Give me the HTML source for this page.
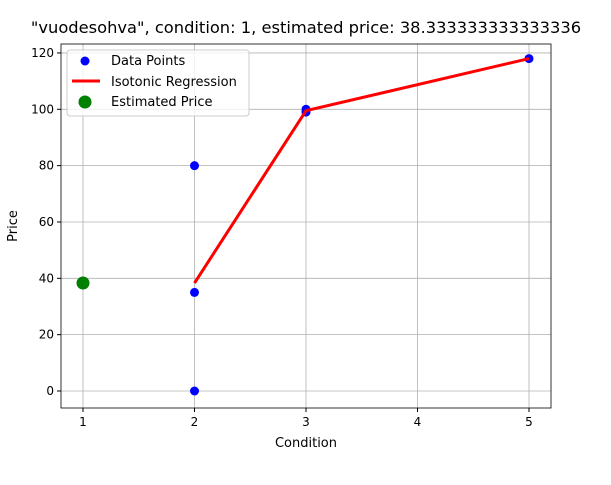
<!DOCTYPE html>
<html><head><meta charset="utf-8"><style>
body{margin:0;background:#fff;font-family:"Liberation Sans","DejaVu Sans",sans-serif}
</style></head><body>
<svg width="611" height="480" xmlns="http://www.w3.org/2000/svg" font-family="DejaVu Sans, Liberation Sans, sans-serif">
<g id="grid"></g>
<g id="marks"></g>
<rect x="61" y="44" width="490" height="364" fill="none" stroke="#000" stroke-width="0.8"/>
<text x="306" y="33" text-anchor="middle" font-size="16.3">"vuodesohva", condition: 1, estimated price: 38.333333333333336</text>
<text x="306" y="447" text-anchor="middle" font-size="13">Condition</text>
<text transform="translate(17,226) rotate(-90)" text-anchor="middle" font-size="13">Price</text>
<g>
<rect x="67" y="50" width="182" height="66" fill="#fff" fill-opacity="0.8" stroke="#ccc" rx="3"/>
<circle cx="85" cy="61" r="4.5" fill="#0000ff"/>
<text x="111" y="65" font-size="13">Data Points</text>
<line x1="72" y1="81" x2="100" y2="81" stroke="#ff0000" stroke-width="3"/>
<text x="111" y="86" font-size="13">Isotonic Regression</text>
<circle cx="85" cy="102" r="6.5" fill="#008000"/>
<text x="111" y="106" font-size="13">Estimated Price</text>
</g>
</svg>
<script>
const xTicks=[1,2,3,4,5];
const yTicks=[0,20,40,60,80,100,120];
const dataX=[2,2,2,3,3,5];
const dataY=[0,35,80,99,100,118];
const isoX=[2,3,5];
const isoY=[38.333,99.5,118];
const estX=[1];
const estY=[38.333];
const X=v=>83+(v-1)*111.5;
const Y=v=>391-v*2.817;
const NS='http://www.w3.org/2000/svg';
const grid=document.getElementById('grid'),marks=document.getElementById('marks');
function mk(t,a,p){const e=document.createElementNS(NS,t);for(const k in a)e.setAttribute(k,a[k]);p.appendChild(e);return e;}
xTicks.forEach(t=>{
 const l=mk('line',{x1:X(t),x2:X(t),y1:44,y2:408,stroke:'#b0b0b0','stroke-width':0.8},grid);
 
 
 mk('line',{x1:X(t),x2:X(t),y1:408,y2:412,stroke:'#000'},grid);
 const tx=mk('text',{x:X(t),y:426,'text-anchor':'middle','font-size':12},grid);tx.textContent=t;
 
 
});
yTicks.forEach(t=>{
 const l=mk('line',{x1:61,x2:551,y1:Y(t),y2:Y(t),stroke:'#b0b0b0','stroke-width':0.8},grid);
 
 
 mk('line',{x1:57,x2:61,y1:Y(t),y2:Y(t),stroke:'#000'},grid);
 const tx=mk('text',{x:54,y:Y(t)+4,'text-anchor':'end','font-size':12},grid);tx.textContent=t;
 
 
});
dataX.forEach((x,i)=>{
 const c=mk('circle',{cx:X(x),cy:Y(dataY[i]),r:4.5,fill:'#0000ff'},marks);
 
 
});
const pl=mk('polyline',{points:isoX.map((x,i)=>X(x)+','+Y(isoY[i])).join(' '),fill:'none',stroke:'#ff0000','stroke-width':3},marks);


estX.forEach((x,i)=>{
 const c=mk('circle',{cx:X(x),cy:Y(estY[i]),r:6.5,fill:'#008000'},marks);
 
 
});
</script>
</body></html>
